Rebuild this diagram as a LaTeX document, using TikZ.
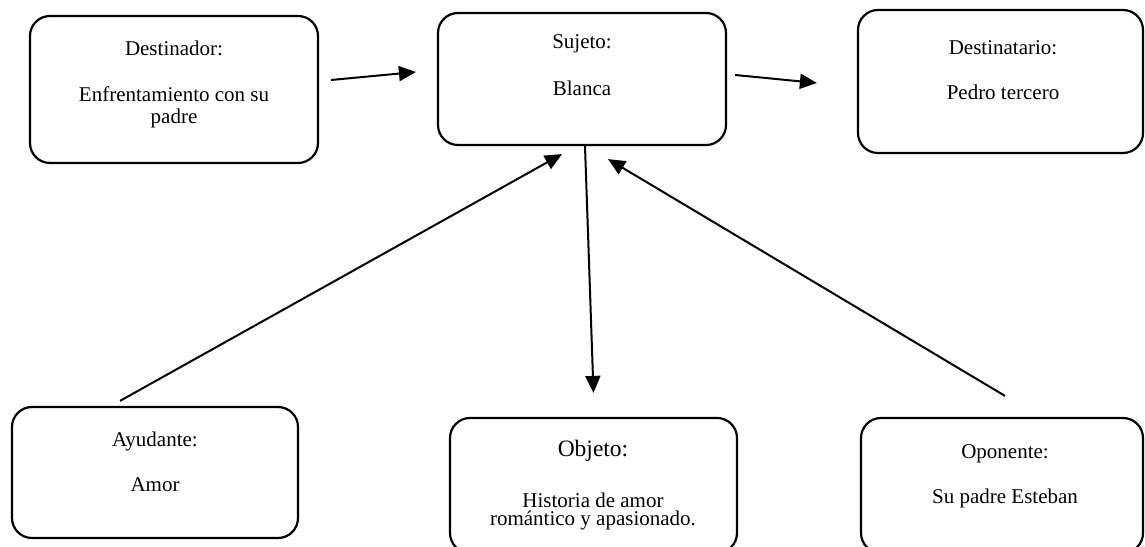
\documentclass[tikz,border=0pt]{standalone}
\usepackage{fontspec}
\setmainfont{Liberation Serif}
\usepackage{tikz}
\usetikzlibrary{arrows.meta}
\tikzstyle{caja}=[rectangle, rounded corners=20pt, draw, line width=2.2pt, inner sep=0pt]
\tikzstyle{texto}=[align=center, inner sep=0pt, font=\fontsize{21}{21.7}\selectfont]
\tikzstyle{flecha}=[draw, line width=2pt, -{Triangle[length=17pt,width=15pt]}]

\begin{document}
\begin{tikzpicture}[x=1pt, y=1pt]

    \useasboundingbox (0,0) rectangle (1145,546);
    \clip (0,0) rectangle (1145,546);

    \foreach \x/\y/\w/\h/\name in {174/456.5/288/147/destinador, 582/467/288/132/sujeto, 1000.5/464.5/285/143/destinatario, 155/73.5/286/131/ayudante, 593.5/60.5/287/135/objeto, 1002/60.5/282/135/oponente}
        \node[caja, minimum width=\w, minimum height=\h] (\name) at (\x,\y) {};

    \node[texto] (tdestinador) at (174,461.8) {Destinador:\\[25pt]Enfrentamiento con su\\padre};
    \node[texto] (tsujeto) at (582,480.6) {Sujeto:\\[25pt]Blanca};
    \node[texto] (tdestinatario) at (1003,475.7) {Destinatario:\\[23.3pt]Pedro tercero};
    \node[texto] (tayudante) at (155,84) {Ayudante:\\[23.3pt]Amor};
    \node[texto, font=\fontsize{21}{18}\selectfont] (tobjeto) at (593,61) {{\fontsize{23.5}{23.5}\selectfont Objeto:}\\[30.7pt]Historia de amor\\romántico y apasionado.};
    \node[texto] (toponente) at (1005,70.1) {Oponente:\\[23.3pt]Su padre Esteban};

    \path[flecha] ([xshift=12,yshift=9.5]destinador.east) -- ([xshift=-21,yshift=7]sujeto.west);
    \path[flecha] ([xshift=8,yshift=4]sujeto.east) -- ([xshift=-40,yshift=-1.5]destinatario.west);
    \path[flecha] ([xshift=-35,yshift=5]ayudante.north) -- ([xshift=-20,yshift=-8]sujeto.south);
    \path[flecha] ([xshift=3]sujeto.south) -- ([yshift=24]objeto.north);
    \path[flecha] ([xshift=3,yshift=21]oponente.north) -- ([xshift=26,yshift=-13]sujeto.south);

\end{tikzpicture}
\end{document}
